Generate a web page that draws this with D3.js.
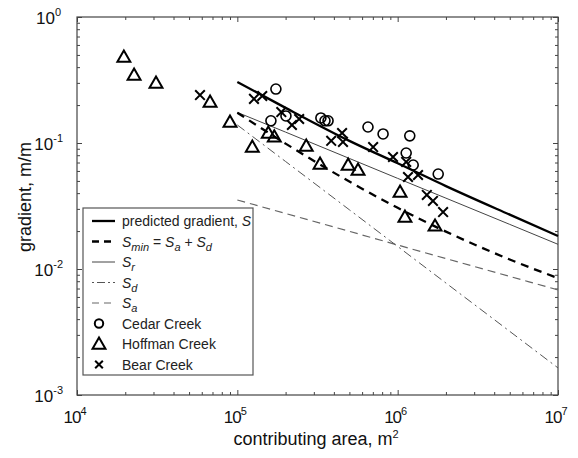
<!DOCTYPE html>
<html lang="en">
<head>
    <meta charset="UTF-8">
    <title>Gradient vs contributing area</title>
    <script src="https://cdn.jsdelivr.net/npm/d3@7"></script>
    <style>
        body { margin: 0; background: #fff; }
        svg { display: block; font-family: Helvetica, Arial, "Liberation Sans", sans-serif; }
    </style>
</head>
<body>
    <div id="chart"></div>

    <script>
        // field data: [contributing area m2, gradient m/m]
        const cedarCreek = [
            [174000, 0.268], [162000, 0.150], [201000, 0.164], [332000, 0.158],
            [352000, 0.150], [368000, 0.150], [653000, 0.134], [811000, 0.118],
            [1190000, 0.114], [1130000, 0.0833], [1250000, 0.0669], [1790000, 0.0567]
        ];
        const hoffmanCreek = [
            [19600, 0.473], [22700, 0.340], [31100, 0.294], [67600, 0.208],
            [90000, 0.144], [124000, 0.0912], [156000, 0.118], [170000, 0.110],
            [269000, 0.0929], [328000, 0.0669], [491000, 0.0657], [566000, 0.0600],
            [1035000, 0.0401], [1110000, 0.0254], [1710000, 0.0216]
        ];
        const bearCreek = [
            [58500, 0.240], [127000, 0.224], [143000, 0.236], [188000, 0.176],
            [243000, 0.155], [219000, 0.139], [385000, 0.104], [450000, 0.120],
            [456000, 0.102], [703000, 0.0929], [935000, 0.0774], [1130000, 0.0707],
            [1160000, 0.0537], [1340000, 0.0557], [1520000, 0.0387], [1660000, 0.0347],
            [1920000, 0.0283]
        ];

        // model curves, read at these areas
        const modelArea = [1e5, 2e5, 5e5, 1e6, 2e6, 5e6, 1e7];
        const sPredicted = [0.305, 0.190, 0.104, 0.069, 0.0455, 0.0270, 0.0183];
        const sMin = [0.174, 0.0989, 0.0494, 0.0306, 0.0198, 0.0119, 0.00846];
        const sR = [0.175, 0.122, 0.0754, 0.0524, 0.0365, 0.0226, 0.0157];
        const sD = [0.139, 0.0713, 0.0295, 0.0151, 0.00774, 0.00320, 0.00164];
        const sA = [0.0353, 0.0276, 0.0199, 0.0155, 0.0121, 0.00873, 0.00682];

        // tick labels (powers of ten)
        const xTickExp = [4, 5, 6, 7];
        const yTickExp = [-3, -2, -1, 0];

        const width = 578, height = 458;
        const pLeft = 77, pRight = 558, pTop = 17, pBottom = 395;

        const svg = d3.select("#chart").append("svg")
            .attr("width", width)
            .attr("height", height);

        const x = d3.scaleLog().domain([1e4, 1e7]).range([pLeft, pRight]);
        const y = d3.scaleLog().domain([1e-3, 1]).range([pBottom, pTop]);

        const majorX = xTickExp.map(e => Math.pow(10, e));
        const majorY = yTickExp.map(e => Math.pow(10, e));
        const minorX = x.ticks().filter(v => !majorX.some(m => Math.abs(m - v) / m < 1e-6));
        const minorY = y.ticks().filter(v => !majorY.some(m => Math.abs(m - v) / m < 1e-6));

        // axes: ticks pointing inward on all four sides
        function addAxis(axisFn, scale, values, size, transform) {
            const g = svg.append("g")
                .attr("transform", transform)
                .call(axisFn(scale).tickValues(values).tickSize(-size).tickFormat(""));
            g.select(".domain").remove();
            g.selectAll(".tick line").attr("stroke", "#444").attr("stroke-width", 1);
        }
        [[minorX, 3], [majorX, 5]].forEach(([vals, s]) => {
            addAxis(d3.axisBottom, x, vals, s, `translate(0,${pBottom})`);
            addAxis(d3.axisTop, x, vals, s, `translate(0,${pTop})`);
        });
        [[minorY, 3], [majorY, 5]].forEach(([vals, s]) => {
            addAxis(d3.axisLeft, y, vals, s, `translate(${pLeft},0)`);
            addAxis(d3.axisRight, y, vals, s, `translate(${pRight},0)`);
        });

        svg.append("rect")
            .attr("x", pLeft).attr("y", pTop)
            .attr("width", pRight - pLeft).attr("height", pBottom - pTop)
            .attr("fill", "none").attr("stroke", "#444").attr("stroke-width", 1.2);

        // tick labels
        const xl = svg.append("g").selectAll("text").data(xTickExp).join("text")
            .attr("x", d => x(Math.pow(10, d)) - 2)
            .attr("y", pBottom + 28)
            .attr("text-anchor", "middle")
            .attr("font-size", 17)
            .attr("letter-spacing", -1)
            .attr("fill", "#111");
        xl.append("tspan").text("10");
        xl.append("tspan").attr("dy", -8).attr("font-size", 11).attr("letter-spacing", 0).text(d => d);

        const yl = svg.append("g").selectAll("text").data(yTickExp).join("text")
            .attr("x", d => pLeft - (d < 0 ? 14 : 16))
            .attr("y", d => y(Math.pow(10, d)) + 7)
            .attr("text-anchor", "end")
            .attr("font-size", 17)
            .attr("fill", "#111");
        yl.append("tspan").text("10");
        yl.append("tspan").attr("dy", -8).attr("font-size", 11).text(d => d);

        // axis titles
        const xt = svg.append("text")
            .attr("x", 316).attr("y", 445)
            .attr("text-anchor", "middle")
            .attr("font-size", 18)
            .attr("fill", "#111");
        xt.append("tspan").text("contributing area, m");
        xt.append("tspan").attr("dy", -7).attr("font-size", 11).text("2");

        svg.append("text")
            .attr("transform", "translate(31,197) rotate(-90)")
            .attr("text-anchor", "middle")
            .attr("font-size", 18)
            .attr("fill", "#111")
            .text("gradient, m/m");

        // model lines
        const lineStyles = [
            { vals: sA, color: "#666", w: 1.2, dash: "8,5" },
            { vals: sD, color: "#555", w: 1, dash: "9,4,2,4" },
            { vals: sR, color: "#444", w: 1, dash: null },
            { vals: sMin, color: "#000", w: 2.3, dash: "8,6" },
            { vals: sPredicted, color: "#000", w: 2.3, dash: null }
        ];
        const line = d3.line().x(d => x(d[0])).y(d => y(d[1])).curve(d3.curveMonotoneX);
        const plot = svg.append("g");
        lineStyles.forEach(s => {
            plot.append("path")
                .datum(modelArea.map((a, i) => [a, s.vals[i]]))
                .attr("d", line)
                .attr("fill", "none")
                .attr("stroke", s.color)
                .attr("stroke-width", s.w)
                .attr("stroke-dasharray", s.dash);
        });

        // markers
        const tri = d3.symbol(d3.symbolTriangle).size(72)();
        const cross = d3.symbol(d3.symbolTimes).size(62)();

        plot.append("g").selectAll("circle").data(cedarCreek).join("circle")
            .attr("cx", d => x(d[0])).attr("cy", d => y(d[1]))
            .attr("r", 5)
            .attr("fill", "none").attr("stroke", "#000").attr("stroke-width", 1.6);

        plot.append("g").selectAll("path").data(hoffmanCreek).join("path")
            .attr("transform", d => `translate(${x(d[0])},${y(d[1])})`)
            .attr("d", tri)
            .attr("fill", "none").attr("stroke", "#000").attr("stroke-width", 2)
            .attr("stroke-linejoin", "miter");

        plot.append("g").selectAll("path").data(bearCreek).join("path")
            .attr("transform", d => `translate(${x(d[0])},${y(d[1])})`)
            .attr("d", cross)
            .attr("fill", "none").attr("stroke", "#000").attr("stroke-width", 2);

        // legend
        const lg = svg.append("g");
        lg.append("rect")
            .attr("x", 83).attr("y", 208).attr("width", 170).attr("height", 167)
            .attr("fill", "#fff").attr("stroke", "#555").attr("stroke-width", 1.2);

        const rowY = d3.range(8).map(i => 221 + i * 20.5);
        const legendLines = [lineStyles[4], lineStyles[3], lineStyles[2], lineStyles[1], lineStyles[0]];
        const legendDash = [null, "7,5", null, "2,3,8,3", "7,5"];
        legendLines.forEach((s, i) => {
            lg.append("line")
                .attr("x1", 92).attr("x2", 115)
                .attr("y1", rowY[i]).attr("y2", rowY[i])
                .attr("stroke", s.color)
                .attr("stroke-width", s.w)
                .attr("stroke-dasharray", legendDash[i]);
        });

        function legendText(i) {
            return lg.append("text")
                .attr("x", 122).attr("y", rowY[i] + 5)
                .attr("font-size", 14)
                .attr("fill", "#222");
        }
        let t = legendText(0);
        t.append("tspan").text("predicted gradient, ");
        t.append("tspan").attr("font-style", "italic").text("S");

        t = legendText(1);
        t.append("tspan").attr("font-style", "italic").text("S");
        t.append("tspan").attr("font-style", "italic").attr("font-size", 11).attr("dy", 4).text("min");
        t.append("tspan").attr("dy", -4).text(" = ");
        t.append("tspan").attr("font-style", "italic").text("S");
        t.append("tspan").attr("font-style", "italic").attr("font-size", 11).attr("dy", 4).text("a");
        t.append("tspan").attr("dy", -4).text(" + ");
        t.append("tspan").attr("font-style", "italic").text("S");
        t.append("tspan").attr("font-style", "italic").attr("font-size", 11).attr("dy", 4).text("d");

        ["r", "d", "a"].forEach((sub, k) => {
            const tt = legendText(2 + k);
            tt.append("tspan").attr("font-style", "italic").text("S");
            tt.append("tspan").attr("font-style", "italic").attr("font-size", 11).attr("dy", 4).text(sub);
        });

        lg.append("circle").attr("cx", 99).attr("cy", rowY[5]).attr("r", 4.2)
            .attr("fill", "none").attr("stroke", "#000").attr("stroke-width", 2);
        lg.append("path").attr("transform", `translate(99,${rowY[6] + 1})`).attr("d", tri)
            .attr("fill", "none").attr("stroke", "#000").attr("stroke-width", 2);
        lg.append("path").attr("transform", `translate(99,${rowY[7]})`)
            .attr("d", d3.symbol(d3.symbolTimes).size(40)())
            .attr("fill", "none").attr("stroke", "#000").attr("stroke-width", 2);

        ["Cedar Creek", "Hoffman Creek", "Bear Creek"].forEach((name, k) => {
            legendText(5 + k).text(name);
        });
    </script>
</body>
</html>
